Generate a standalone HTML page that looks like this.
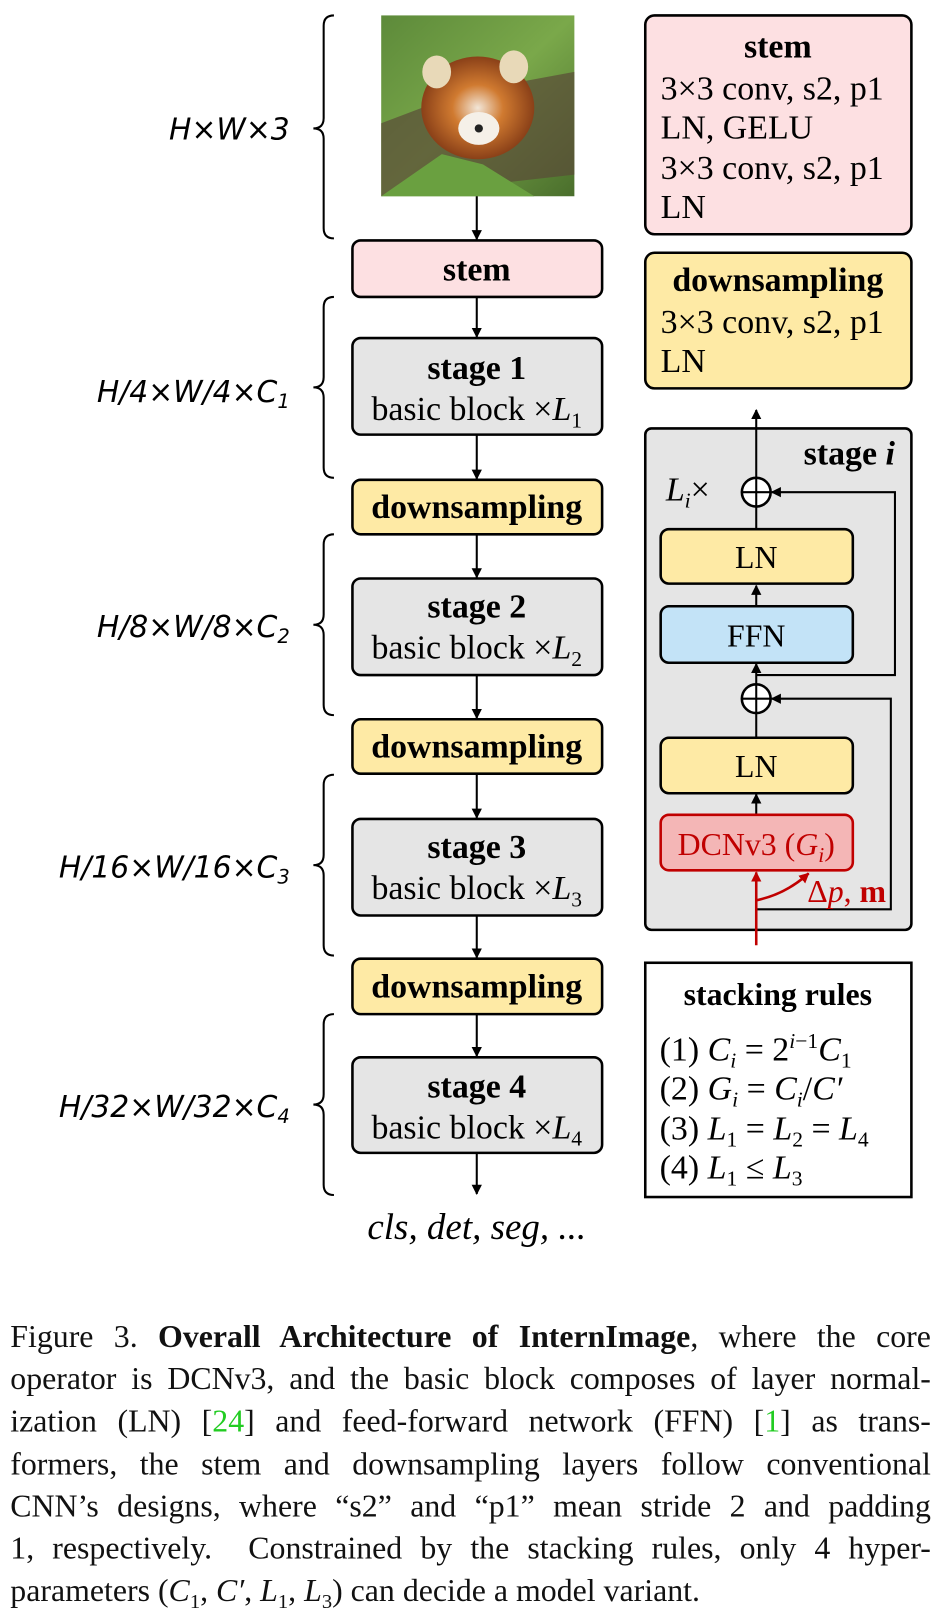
<!DOCTYPE html>
<html><head><meta charset="utf-8"><style>
body{margin:0;background:#fff;width:938px;height:1611px;overflow:hidden;position:relative;font-family:"Liberation Serif",serif}
#w{position:absolute;left:0;top:0;width:913px;height:1568px;transform:scale(1.0275);transform-origin:0 0}
svg{position:absolute;left:0;top:0}
.cap{position:absolute;left:10px;top:1280px;width:896px;font-size:31px;line-height:41.2px;color:#111}
.cap div{text-align:justify;text-align-last:justify;white-space:nowrap}
.cap div.l{text-align-last:left}
.g{color:#22cc22}
</style></head><body><div id="w">
<svg width="913" height="1270" viewBox="0 0 913 1270" font-family="Liberation Serif, serif">
<defs>
<marker id="a" markerWidth="10" markerHeight="10" refX="9" refY="5" orient="auto" markerUnits="userSpaceOnUse"><path d="M0,0 L10,5 L0,10 z" fill="#000"/></marker>
<marker id="ar" markerWidth="10" markerHeight="10" refX="9" refY="5" orient="auto" markerUnits="userSpaceOnUse"><path d="M0,0 L10,5 L0,10 z" fill="#c00000"/></marker>
<linearGradient id="bg" x1="0" y1="0" x2="1" y2="1"><stop offset="0" stop-color="#5d8a3a"/><stop offset="0.5" stop-color="#7aa84a"/><stop offset="1" stop-color="#4a6e2c"/></linearGradient>
<radialGradient id="pd" cx="0.5" cy="0.5" r="0.5"><stop offset="0" stop-color="#f2e6d8"/><stop offset="0.45" stop-color="#d07a30"/><stop offset="1" stop-color="#8a4018"/></radialGradient>
</defs>
<rect x="371" y="15" width="188" height="176" fill="url(#bg)"/>
<path d="M371,120 L450,90 L559,70 L559,170 L371,191 z" fill="#5a4a38" opacity="0.7"/>
<ellipse cx="465" cy="105" rx="55" ry="50" fill="url(#pd)"/>
<ellipse cx="425" cy="70" rx="14" ry="16" fill="#e8d9b8"/><ellipse cx="500" cy="65" rx="14" ry="16" fill="#e8d9b8"/>
<ellipse cx="466" cy="125" rx="20" ry="16" fill="#f5f0e8"/>
<circle cx="466" cy="125" r="4" fill="#222"/>
<path d="M371,191 L430,150 L470,160 L520,191 z" fill="#6aa040"/>
<g fill="none" stroke="#000" stroke-width="2">
<path d="M325,15 q-10,0 -10,10 v90 q0,10 -10,10 q10,0 10,10 v87 q0,10 10,10"/>
<path d="M325,289 q-10,0 -10,10 v68 q0,10 -10,10 q10,0 10,10 v68 q0,10 10,10"/>
<path d="M325,520 q-10,0 -10,10 v68 q0,10 -10,10 q10,0 10,10 v68 q0,10 10,10"/>
<path d="M325,754 q-10,0 -10,10 v68 q0,10 -10,10 q10,0 10,10 v68 q0,10 10,10"/>
<path d="M325,987 q-10,0 -10,10 v68 q0,10 -10,10 q10,0 10,10 v68 q0,10 10,10"/>
</g>
<g font-style="italic" text-anchor="end" font-family="DejaVu Sans, sans-serif" font-size="29">
<text x="282" y="136">H×W×3</text>
<text x="282" y="391">H/4×W/4×C<tspan font-size="19" dy="6">1</tspan></text>
<text x="282" y="620">H/8×W/8×C<tspan font-size="19" dy="6">2</tspan></text>
<text x="282" y="854">H/16×W/16×C<tspan font-size="19" dy="6">3</tspan></text>
<text x="282" y="1087">H/32×W/32×C<tspan font-size="19" dy="6">4</tspan></text>
</g>
<g stroke="#000" stroke-width="2" marker-end="url(#a)">
<line x1="464" y1="191" x2="464" y2="233"/>
<line x1="464" y1="289" x2="464" y2="328"/>
<line x1="464" y1="423" x2="464" y2="466"/>
<line x1="464" y1="520" x2="464" y2="562"/>
<line x1="464" y1="657" x2="464" y2="699"/>
<line x1="464" y1="753" x2="464" y2="796"/>
<line x1="464" y1="891" x2="464" y2="932"/>
<line x1="464" y1="987" x2="464" y2="1028"/>
<line x1="464" y1="1122" x2="464" y2="1162"/>
</g>
<g stroke="#000" stroke-width="2.5">
<rect x="343" y="234" width="243" height="55" rx="8" fill="#fde0e2"/>
<rect x="343" y="329" width="243" height="94" rx="8" fill="#e5e5e5"/>
<rect x="343" y="467" width="243" height="53" rx="8" fill="#feeaa5"/>
<rect x="343" y="563" width="243" height="94" rx="8" fill="#e5e5e5"/>
<rect x="343" y="700" width="243" height="53" rx="8" fill="#feeaa5"/>
<rect x="343" y="797" width="243" height="94" rx="8" fill="#e5e5e5"/>
<rect x="343" y="933" width="243" height="54" rx="8" fill="#feeaa5"/>
<rect x="343" y="1029" width="243" height="93" rx="8" fill="#e5e5e5"/>
</g>
<g font-size="33" text-anchor="middle" fill="#000">
<text x="464" y="273" font-weight="bold">stem</text>
<text x="464" y="369" font-weight="bold">stage 1</text>
<text x="464" y="409">basic block ×<tspan font-style="italic">L</tspan><tspan font-size="21" dy="7">1</tspan></text>
<text x="464" y="504" font-weight="bold">downsampling</text>
<text x="464" y="601" font-weight="bold">stage 2</text>
<text x="464" y="641">basic block ×<tspan font-style="italic">L</tspan><tspan font-size="21" dy="7">2</tspan></text>
<text x="464" y="737" font-weight="bold">downsampling</text>
<text x="464" y="835" font-weight="bold">stage 3</text>
<text x="464" y="875">basic block ×<tspan font-style="italic">L</tspan><tspan font-size="21" dy="7">3</tspan></text>
<text x="464" y="971" font-weight="bold">downsampling</text>
<text x="464" y="1068" font-weight="bold">stage 4</text>
<text x="464" y="1108">basic block ×<tspan font-style="italic">L</tspan><tspan font-size="21" dy="7">4</tspan></text>
<text x="464" y="1206" font-style="italic" font-size="36">cls, det, seg, ...</text>
</g>
<g stroke="#000" stroke-width="2.5">
<rect x="628" y="15" width="259" height="213" rx="9" fill="#fde0e2"/>
<rect x="628" y="246" width="259" height="132" rx="9" fill="#feeaa5"/>
<rect x="628" y="417" width="259" height="488" rx="6" fill="#e5e5e5"/>
<rect x="628" y="937" width="259" height="228" fill="#fff"/>
</g>
<g font-size="33" fill="#000">
<text x="757" y="56" text-anchor="middle" font-weight="bold">stem</text>
<text x="643" y="97">3×3 conv, s2, p1</text>
<text x="643" y="135">LN, GELU</text>
<text x="643" y="174">3×3 conv, s2, p1</text>
<text x="643" y="212">LN</text>
<text x="757" y="283" text-anchor="middle" font-weight="bold">downsampling</text>
<text x="643" y="324">3×3 conv, s2, p1</text>
<text x="643" y="362">LN</text>
<text x="871" y="452" text-anchor="end" font-weight="bold">stage <tspan font-style="italic">i</tspan></text>
<text x="648" y="487" font-style="italic">L<tspan font-size="21" dy="7">i</tspan><tspan dy="-7" font-style="normal">×</tspan></text>
<text x="757" y="978" text-anchor="middle" font-weight="bold" font-size="31">stacking rules</text>
<text x="642" y="1032">(1) <tspan font-style="italic">C<tspan font-size="21" dy="7">i</tspan></tspan><tspan dy="-7"> = 2</tspan><tspan font-size="21" dy="-12" font-style="italic">i</tspan><tspan font-size="21">−1</tspan><tspan dy="12" font-style="italic">C</tspan><tspan font-size="21" dy="7">1</tspan></text>
<text x="642" y="1070">(2) <tspan font-style="italic">G<tspan font-size="21" dy="7">i</tspan></tspan><tspan dy="-7"> = </tspan><tspan font-style="italic">C</tspan><tspan font-size="21" dy="7" font-style="italic">i</tspan><tspan dy="-7">/</tspan><tspan font-style="italic">C′</tspan></text>
<text x="642" y="1109">(3) <tspan font-style="italic">L</tspan><tspan font-size="21" dy="7">1</tspan><tspan dy="-7"> = </tspan><tspan font-style="italic">L</tspan><tspan font-size="21" dy="7">2</tspan><tspan dy="-7"> = </tspan><tspan font-style="italic">L</tspan><tspan font-size="21" dy="7">4</tspan></text>
<text x="642" y="1147">(4) <tspan font-style="italic">L</tspan><tspan font-size="21" dy="7">1</tspan><tspan dy="-7"> ≤ </tspan><tspan font-style="italic">L</tspan><tspan font-size="21" dy="7">3</tspan></text>
</g>
<g stroke="#000" stroke-width="2" fill="none">
<line x1="736" y1="465" x2="736" y2="399" marker-end="url(#a)"/>
<line x1="736" y1="515" x2="736" y2="493"/>
<line x1="736" y1="590" x2="736" y2="570" marker-end="url(#a)"/>
<line x1="736" y1="718" x2="736" y2="694"/>
<line x1="736" y1="666" x2="736" y2="646" marker-end="url(#a)"/>
<line x1="736" y1="793" x2="736" y2="773" marker-end="url(#a)"/>
<polyline points="736,657 871,657 871,479 751,479" marker-end="url(#a)"/>
<polyline points="736,885 867,885 867,680 751,680" marker-end="url(#a)"/>
<circle cx="736" cy="479" r="14" fill="#fff" stroke-width="2.5"/>
<line x1="722" y1="479" x2="750" y2="479"/><line x1="736" y1="465" x2="736" y2="493"/>
<circle cx="736" cy="680" r="14" fill="#fff" stroke-width="2.5"/>
<line x1="722" y1="680" x2="750" y2="680"/><line x1="736" y1="666" x2="736" y2="694"/>
</g>
<g stroke="#000" stroke-width="2.5">
<rect x="643" y="515" width="187" height="53" rx="8" fill="#feeaa5"/>
<rect x="643" y="590" width="187" height="55" rx="8" fill="#c3e3f7"/>
<rect x="643" y="718" width="187" height="54" rx="8" fill="#feeaa5"/>
<rect x="643" y="793" width="187" height="54" rx="8" fill="#f4b6b6" stroke="#c00000"/>
</g>
<g stroke="#c00000" stroke-width="2.5" fill="none">
<line x1="736" y1="920" x2="736" y2="849" marker-end="url(#ar)"/>
<path d="M737,876 Q765,870 787,850" marker-end="url(#ar)"/>
</g>
<g font-size="31" text-anchor="middle">
<text x="736" y="553">LN</text>
<text x="736" y="629">FFN</text>
<text x="736" y="756">LN</text>
<text x="736" y="832" fill="#c00000">DCNv3 (<tspan font-style="italic">G</tspan><tspan font-size="21" dy="7" font-style="italic">i</tspan><tspan dy="-7">)</tspan></text>
<text x="824" y="878" fill="#c00000">Δ<tspan font-style="italic">p</tspan>, <tspan font-weight="bold">m</tspan></text>
</g>
</svg>
<div class="cap">
<div>Figure 3. <b>Overall Architecture of InternImage</b>, where the core</div>
<div>operator is DCNv3, and the basic block composes of layer normal-</div>
<div>ization (LN) [<span class="g">24</span>] and feed-forward network (FFN) [<span class="g">1</span>] as trans-</div>
<div>formers, the stem and downsampling layers follow conventional</div>
<div>CNN’s designs, where “s2” and “p1” mean stride 2 and padding</div>
<div>1, respectively. &nbsp;Constrained by the stacking rules, only 4 hyper-</div>
<div class="l">parameters (<i>C</i><sub style="font-size:20px">1</sub>, <i>C′</i>, <i>L</i><sub style="font-size:20px">1</sub>, <i>L</i><sub style="font-size:20px">3</sub>) can decide a model variant.</div>
</div>
</div></body></html>
